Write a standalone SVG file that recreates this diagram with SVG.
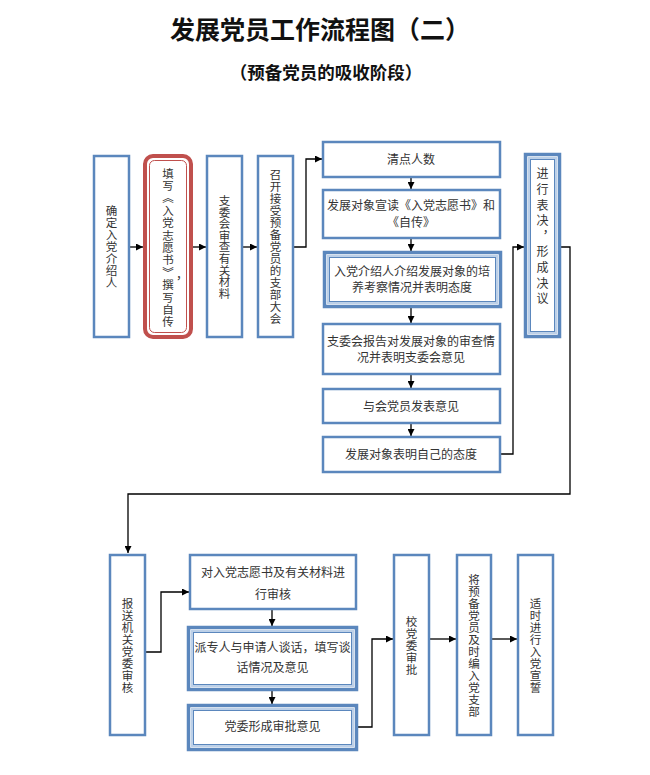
<svg xmlns="http://www.w3.org/2000/svg" width="650" height="775" viewBox="0 0 650 775">
<defs>
<marker id="arr" viewBox="0 0 10 10" refX="10" refY="5" markerWidth="7" markerHeight="7" markerUnits="userSpaceOnUse" orient="auto">
<path d="M0,0 L10,5 L0,10 z" fill="#000"/>
</marker>
<style>
.box{fill:#fff;stroke:#5b87bd;stroke-width:2.5}
.dbo{fill:#fff;stroke:#5b87bd;stroke-width:3.5}
.dbm{fill:none;stroke:#bcd0e8;stroke-width:2}
.dbi{fill:none;stroke:#5b87bd;stroke-width:1}
.rbo{fill:#fff;stroke:#c0504d;stroke-width:4}
.rbi{fill:none;stroke:#c0504d;stroke-width:1}
.t{font-family:"Noto Sans CJK SC","Noto Sans",sans-serif;font-size:12px;fill:#333;text-anchor:middle}
.v{font-family:"Noto Sans CJK SC","Noto Sans",sans-serif;font-size:11.5px;letter-spacing:0.5px;fill:#333;text-anchor:middle;writing-mode:vertical-rl}
.h1{font-family:"Noto Sans CJK SC","Noto Sans",sans-serif;font-size:25px;font-weight:bold;fill:#111;text-anchor:middle}
.h2{font-family:"Noto Sans CJK SC","Noto Sans",sans-serif;font-size:17.5px;font-weight:bold;fill:#111;text-anchor:middle}
.c{fill:none;stroke:#000;stroke-width:1.3}
</style>
</defs>

<text class="h1" x="320" y="39">发展党员工作流程图（二）</text>
<text class="h2" x="326" y="79">（预备党员的吸收阶段）</text>

<g id="connectors">
<path class="c" d="M129,247 H143" marker-end="url(#arr)"/>
<path class="c" d="M192,247 H206" marker-end="url(#arr)"/>
<path class="c" d="M243,247 H257" marker-end="url(#arr)"/>
<path class="c" d="M293,247 H306 V159 H322" marker-end="url(#arr)"/>
<path class="c" d="M411,177 V189" marker-end="url(#arr)"/>
<path class="c" d="M411,238 V251" marker-end="url(#arr)"/>
<path class="c" d="M411,308 V323" marker-end="url(#arr)"/>
<path class="c" d="M411,374 V388" marker-end="url(#arr)"/>
<path class="c" d="M411,423 V436" marker-end="url(#arr)"/>
<path class="c" d="M500,454 H513 V247 H524" marker-end="url(#arr)"/>
<path class="c" d="M561,247 H570 V494 H128 V553" marker-end="url(#arr)"/>
<path class="c" d="M145,652 H161 V592 H189" marker-end="url(#arr)"/>
<path class="c" d="M272,609 V626" marker-end="url(#arr)"/>
<path class="c" d="M272,691 V704" marker-end="url(#arr)"/>
<path class="c" d="M358,727 H372 V639 H393" marker-end="url(#arr)"/>
<path class="c" d="M429,639 H456" marker-end="url(#arr)"/>
<path class="c" d="M491,639 H517" marker-end="url(#arr)"/>
</g>

<g id="n1">
<rect class="box" x="94" y="156" width="35" height="181"/>
<text class="v" x="111.5" y="247">确定入党介绍人</text>
</g>
<g id="n2">
<rect class="rbo" x="145" y="156" width="46" height="181" rx="8"/>
<rect class="rbi" x="149.5" y="160.5" width="37" height="172" rx="5"/>
<text class="v" x="168" y="248" style="letter-spacing:0.9px">填写︽入党志愿书︾撰写自传</text>
<text class="t" x="182" y="279">，</text>
</g>
<g id="n3">
<rect class="box" x="207" y="156" width="35" height="181"/>
<text class="v" x="224.5" y="247" style="letter-spacing:0.1px">支委会审查有关材料</text>
</g>
<g id="n4">
<rect class="box" x="258" y="156" width="35" height="181"/>
<text class="v" x="275.5" y="246.5">召开接受预备党员的支部大会</text>
</g>

<g id="n5">
<rect class="box" x="323" y="142" width="177" height="35"/>
<text class="t" x="411" y="163.5">清点人数</text>
</g>
<g id="n6">
<rect class="box" x="323" y="190" width="177" height="48"/>
<text class="t" x="411" y="210">发展对象宣读《入党志愿书》和</text>
<text class="t" x="411" y="226.5">《自传》</text>
</g>
<g id="n7">
<rect class="dbo" x="324.5" y="252.5" width="176" height="54"/>
<rect class="dbm" x="328" y="256" width="169" height="47"/>
<rect class="dbi" x="329.5" y="257.5" width="166" height="44"/>
<text class="t" x="412" y="275.5">入党介绍人介绍发展对象的培</text>
<text class="t" x="412" y="292">养考察情况并表明态度</text>
</g>
<g id="n8">
<rect class="box" x="323" y="324" width="177" height="50"/>
<text class="t" x="411" y="345.5">支委会报告对发展对象的审查情</text>
<text class="t" x="411" y="362">况并表明支委会意见</text>
</g>
<g id="n9">
<rect class="box" x="323" y="389" width="177" height="34"/>
<text class="t" x="411" y="411">与会党员发表意见</text>
</g>
<g id="n10">
<rect class="box" x="323" y="437" width="177" height="35"/>
<text class="t" x="411" y="459">发展对象表明自己的态度</text>
</g>
<g id="n11">
<rect class="dbo" x="525.5" y="154.5" width="34" height="182"/>
<rect class="dbm" x="529" y="158" width="27" height="175"/>
<rect class="dbi" x="530.5" y="159.5" width="24" height="172"/>
<text class="v" x="542.5" y="238" style="font-size:12px;letter-spacing:3.6px">进行表决，形成决议</text>
</g>

<g id="n12">
<rect class="box" x="110" y="555" width="35" height="180"/>
<text class="v" x="127.5" y="645.5">报送机关党委审核</text>
</g>
<g id="n13">
<rect class="box" x="190" y="555" width="166" height="54"/>
<text class="t" x="273" y="577">对入党志愿书及有关材料进</text>
<text class="t" x="273" y="599">行审核</text>
</g>
<g id="n14">
<rect class="dbo" x="188.5" y="627.5" width="168" height="62"/>
<rect class="dbm" x="192" y="631" width="161" height="55"/>
<rect class="dbi" x="193.5" y="632.5" width="158" height="52"/>
<text class="t" x="272.5" y="652">派专人与申请人谈话，填写谈</text>
<text class="t" x="272.5" y="672">话情况及意见</text>
</g>
<g id="n15">
<rect class="dbo" x="188.5" y="705.5" width="168" height="44"/>
<rect class="dbm" x="192" y="709" width="161" height="37"/>
<rect class="dbi" x="193.5" y="710.5" width="158" height="34"/>
<text class="t" x="272.5" y="731">党委形成审批意见</text>
</g>
<g id="n16">
<rect class="box" x="394" y="555" width="35" height="180"/>
<text class="v" x="411.5" y="645.5">校党委审批</text>
</g>
<g id="n17">
<rect class="box" x="457" y="555" width="34" height="180"/>
<text class="v" x="474" y="645.5">将预备党员及时编入党支部</text>
</g>
<g id="n18">
<rect class="box" x="518" y="555" width="35" height="180"/>
<text class="v" x="535.5" y="646">适时进行入党宣誓</text>
</g>
</svg>
